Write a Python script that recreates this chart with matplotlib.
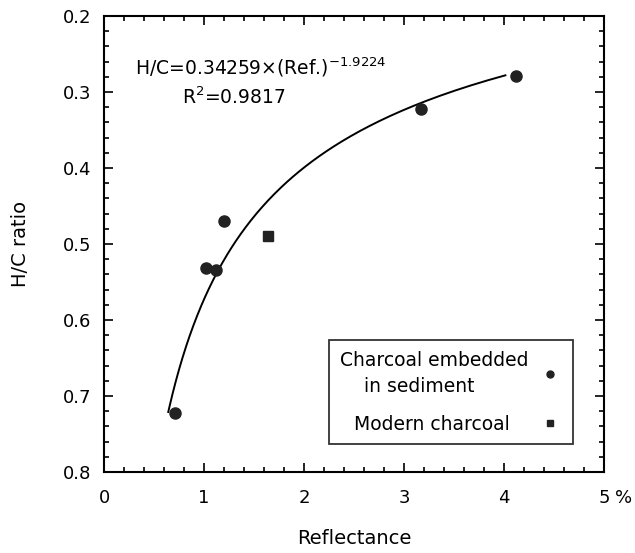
import matplotlib
matplotlib.use("Agg")
import matplotlib.pyplot as plt
from matplotlib.lines import Line2D
from matplotlib.ticker import MultipleLocator
import numpy as np

# charcoal embedded in sediment (reflectance %, H/C)
sed_ref = [0.71, 1.02, 1.12, 1.20, 3.17, 4.12]
sed_hc = [0.722, 0.532, 0.534, 0.470, 0.322, 0.279]
# modern charcoal
mod_ref = [1.64]
mod_hc = [0.490]

# fitted power curve as printed on the chart (Ref. = a * (H/C)^b)
fit_a = 0.34259
fit_b = -1.9224
fit_hc_range = (0.278, 0.721)

plt.rcParams["font.family"] = "DejaVu Sans"

fig = plt.figure(figsize=(6.35, 5.53), dpi=100)
ax = fig.add_axes([0.1638, 0.1465, 0.7874, 0.8245])

hc_line = np.linspace(fit_hc_range[0], fit_hc_range[1], 200)
ax.plot(fit_a * hc_line ** fit_b, hc_line, color="black", lw=1.4)

ax.plot(sed_ref, sed_hc, "o", color="#222222", markersize=8, zorder=3)
ax.plot(mod_ref, mod_hc, "s", color="#222222", markersize=7, zorder=3)

ax.set_xlim(0, 5)
ax.set_ylim(0.8, 0.2)
ax.xaxis.set_major_locator(MultipleLocator(1))
ax.xaxis.set_minor_locator(MultipleLocator(0.2))
ax.yaxis.set_major_locator(MultipleLocator(0.1))
ax.yaxis.set_minor_locator(MultipleLocator(0.02))
ax.set_xticks([0, 1, 2, 3, 4, 5])
ax.set_xticklabels(["0", "1", "2", "3", "4", "5"])
ax.set_yticks([0.2, 0.3, 0.4, 0.5, 0.6, 0.7, 0.8])
ax.set_yticklabels(["0.2", "0.3", "0.4", "0.5", "0.6", "0.7", "0.8"])

ax.tick_params(which="both", direction="in", top=True, right=True, width=1.2, labelsize=13)
ax.tick_params(which="major", length=6.5)
ax.tick_params(which="minor", length=3.5)
ax.tick_params(axis="x", pad=12)
ax.tick_params(axis="y", pad=9)
for sp in ax.spines.values():
    sp.set_linewidth(1.5)

# unit sign next to the last tick label
ax.annotate("%", xy=(5, 0), xycoords=("data", "axes fraction"), xytext=(8, -19),
            textcoords="offset points", fontsize=13, ha="left", va="center")

ax.set_xlabel("Reflectance", fontsize=14, labelpad=16)
ax.set_ylabel("H/C ratio", fontsize=14, labelpad=24)

ax.text(0.31, 0.267, "H/C=0.34259\u00d7(Ref.)$^{-1.9224}$", fontsize=13.5, va="center", ha="left")
ax.text(0.78, 0.307, "R$^{2}$=0.9817", fontsize=13.5, va="center", ha="left")

handles = [
    Line2D([], [], marker="o", ls="none", color="#222222", markersize=5),
    Line2D([], [], marker="s", ls="none", color="#222222", markersize=5),
]
labels = ["Charcoal embedded\n    in sediment", "Modern charcoal" + " " * 3]
leg = ax.legend(handles, labels, loc="lower right", bbox_to_anchor=(0.938, 0.061),
                borderaxespad=0, markerfirst=False, frameon=True, fancybox=False,
                fontsize=13.5, handlelength=1.4, handletextpad=0.45,
                labelspacing=1.0, borderpad=0.55)
leg.get_texts()[0].set_linespacing(1.5)
leg.get_frame().set_edgecolor("black")
leg.get_frame().set_linewidth(1.3)

fig.savefig("out.png", dpi=100)
